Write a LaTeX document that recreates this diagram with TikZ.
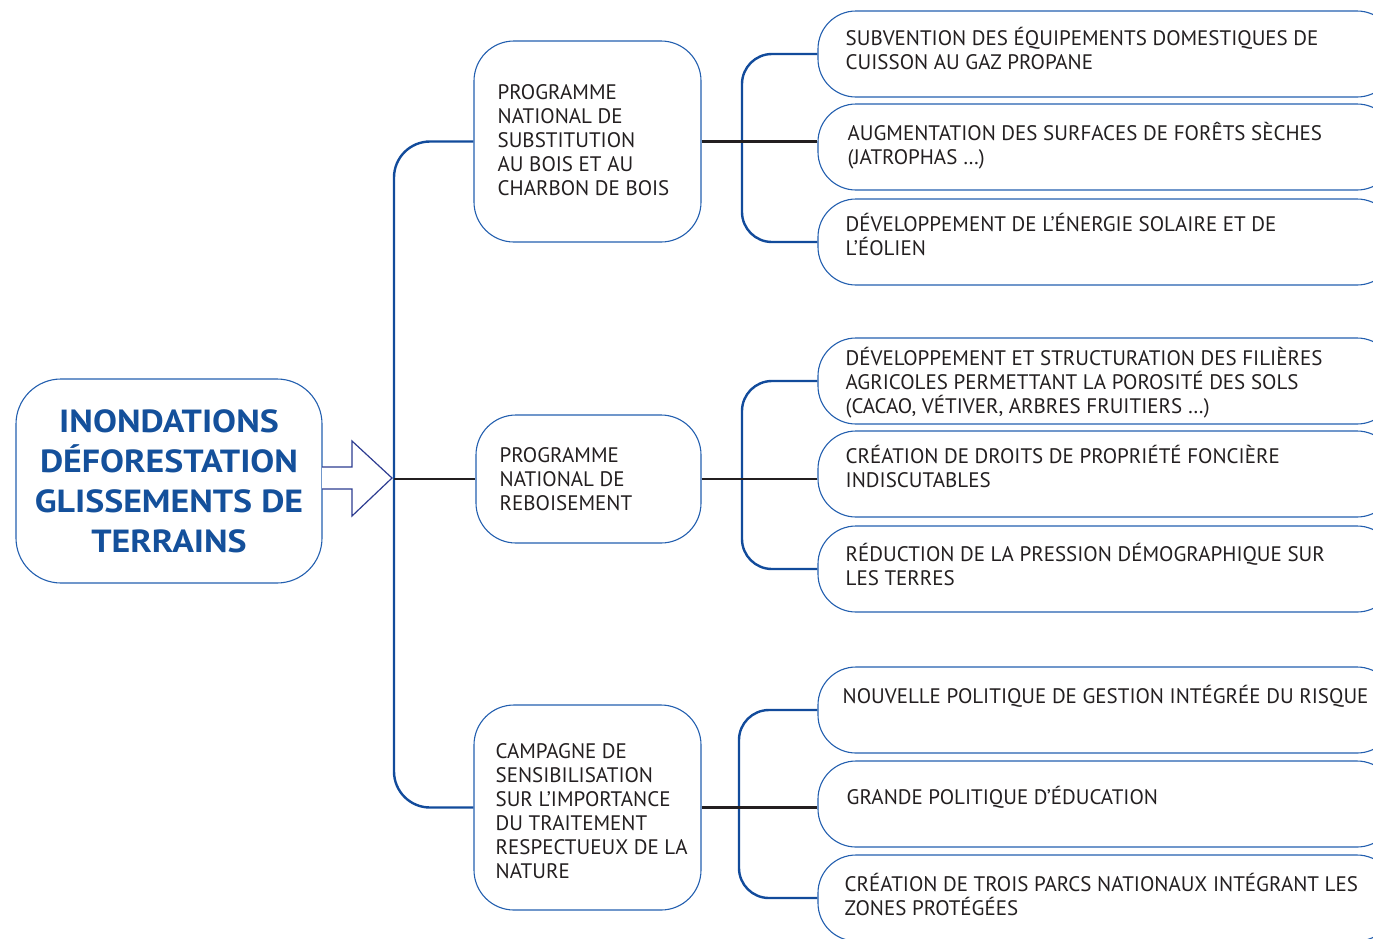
\documentclass[tikz,border=0pt]{standalone}
\usepackage{fontspec}
\setmainfont{PT Sans}
\newfontfamily\titlefont{PT Sans}[FakeStretch=1.12]
\usetikzlibrary{calc}

\definecolor{titleblue}{RGB}{20,80,155}
\definecolor{boxblue}{RGB}{35,95,175}
\definecolor{linkblue}{RGB}{18,75,155}
\definecolor{arrowblue}{RGB}{45,60,145}
\definecolor{inkgray}{RGB}{35,31,32}

\tikzset{
  mainbox/.style={draw=boxblue, line width=1.1pt, rounded corners=45,
    minimum width=306, minimum height=204, align=center, text=titleblue,
    font=\titlefont\bfseries\fontsize{32}{40}\selectfont},
  midbox/.style={draw=boxblue, line width=1.1pt, rounded corners=40,
    minimum width=227},
  midtext/.style={anchor=west, align=left, inner sep=0pt, text=inkgray,
    font=\fontsize{21}{24}\selectfont},
  rbox/.style={draw=boxblue, line width=1.1pt, rounded corners=38,
    minimum width=577, minimum height=86},
  rtext/.style={anchor=north west, align=left, inner sep=0pt, text=inkgray,
    font=\fontsize{21}{24}\selectfont, execute at begin node={\strut}},
  link/.style={draw=linkblue, line width=2.4pt},
  stem/.style={draw=inkgray, line width=2.4pt}
}

\begin{document}
\begin{tikzpicture}[x=1pt,y=-1pt]
  \useasboundingbox (0,0) rectangle (1373,938);
  \clip (0,0) rectangle (1373,938);

  % root and its arrow
  \node[mainbox] (root) at (169,481) {INONDATIONS\\D\'EFORESTATION\\GLISSEMENTS DE\\TERRAINS};
  \draw[arrowblue, line width=1.2pt, fill=white]
    (322,467) -- (352,467) -- (352,441) -- (392,478) -- (352,516) -- (352,489) -- (322,489);

  % programmes
  \node[midbox, minimum height=201] (m1) at (587.5,141.5) {};
  \node[midbox, minimum width=225, minimum height=128] (m2) at (588.5,479) {};
  \node[midbox, minimum height=205] (m3) at (587.5,807.5) {};
  \node[midtext] at ([xshift=24,yshift=1]m1.west)
    {PROGRAMME\\NATIONAL DE\\SUBSTITUTION\\AU BOIS ET AU\\CHARBON DE BOIS};
  \node[midtext] at ([xshift=24]m2.west)
    {PROGRAMME\\NATIONAL DE\\REBOISEMENT};
  \node[midtext] at ([xshift=22,yshift=-4]m3.west)
    {CAMPAGNE DE\\SENSIBILISATION\\SUR L'IMPORTANCE\\DU TRAITEMENT\\RESPECTUEUX DE LA\\NATURE};

  % actions
  \node[rbox] (r1) at (1106.5,54) {};
  \node[rbox] (r2) at (1106.5,147) {};
  \node[rbox] (r3) at (1106.5,242) {};
  \node[rbox] (r4) at (1106.5,381) {};
  \node[rbox] (r5) at (1106.5,474) {};
  \node[rbox] (r6) at (1106.5,569) {};
  \node[rbox] (r7) at (1106.5,710) {};
  \node[rbox] (r8) at (1106.5,804) {};
  \node[rbox] (r9) at (1106.5,898) {};

  \node[rtext] at ([xshift=28,yshift=-17]r1.north west)
    {SUBVENTION DES \'EQUIPEMENTS DOMESTIQUES DE\\CUISSON AU GAZ PROPANE};
  \node[rtext] at ([xshift=30,yshift=-19]r2.north west)
    {AUGMENTATION DES SURFACES DE FOR\^ETS S\`ECHES\\(JATROPHAS \dots)};
  \node[rtext] at ([xshift=28,yshift=-15]r3.north west)
    {D\'EVELOPPEMENT DE L'\'ENERGIE SOLAIRE ET DE\\L'\'EOLIEN};
  \node[rtext] at ([xshift=28,yshift=-10]r4.north west)
    {D\'EVELOPPEMENT ET STRUCTURATION DES FILI\`ERES\\AGRICOLES PERMETTANT LA POROSIT\'E DES SOLS\\(CACAO, V\'ETIVER, ARBRES FRUITIERS \dots)};
  \node[rtext] at ([xshift=28,yshift=-15]r5.north west)
    {CR\'EATION DE DROITS DE PROPRI\'ET\'E FONCI\`ERE\\INDISCUTABLES};
  \node[rtext] at ([xshift=28,yshift=-18]r6.north west)
    {R\'EDUCTION DE LA PRESSION D\'EMOGRAPHIQUE SUR\\LES TERRES};
  \node[rtext] at ([xshift=25,yshift=-19]r7.north west)
    {NOUVELLE POLITIQUE DE GESTION INT\'EGR\'EE DU RISQUE};
  \node[rtext] at ([xshift=29,yshift=-26]r8.north west)
    {GRANDE POLITIQUE D'\'EDUCATION};
  \node[rtext] at ([xshift=27,yshift=-19]r9.north west)
    {CR\'EATION DE TROIS PARCS NATIONAUX INT\'EGRANT LES\\ZONES PROT\'EG\'EES};

  % trunk
  \coordinate (hub) at (394,479);
  \draw[link, rounded corners=36] (m1.west) -- (m1.west -| hub) -- (m3.west -| hub) -- (m3.west);
  \draw[stem] (hub) -- (m2.west);

  % brackets
  \coordinate (b1) at (742,0);
  \coordinate (b2) at (742,0);
  \coordinate (b3) at (739,0);
  \draw[link, rounded corners=30] (r1.west) -- (r1.west -| b1) -- (r3.west -| b1) -- (r3.west);
  \draw[link, rounded corners=30] (r4.west) -- (r4.west -| b2) -- (r6.west -| b2) -- (r6.west);
  \draw[link, rounded corners=30] (r7.west) -- (r7.west -| b3) -- (r9.west -| b3) -- (r9.west);
  \draw[stem] (m1.east) -- (m1.east -| r2.west);
  \draw[stem] (m2.east) -- (m2.east -| r5.west);
  \draw[stem] (m3.east) -- (m3.east -| r8.west);
\end{tikzpicture}
\end{document}
